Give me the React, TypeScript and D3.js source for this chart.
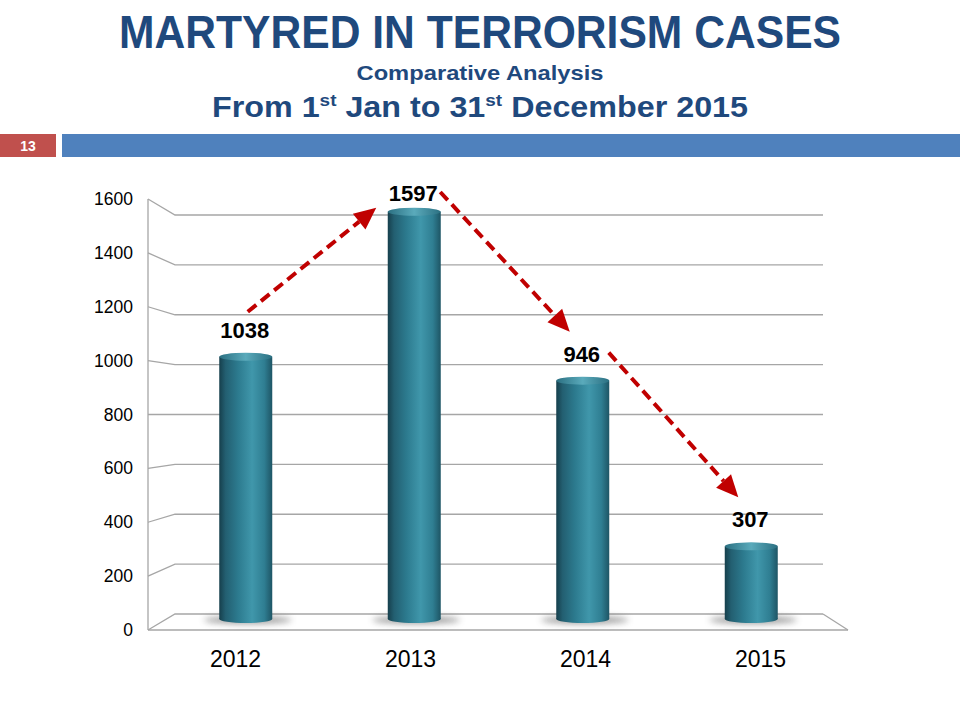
import React from "react";
import * as d3 from "d3";

const categories = ["2012", "2013", "2014", "2015"];
const values = [1038, 1597, 946, 307];
const yTicks = [0, 200, 400, 600, 800, 1000, 1200, 1400, 1600];

const W = 960;
const H = 720;
const NAVY = "#1f497d";
const RED = "#c00000";
const GRID = "#a6a6a6";

export default function App() {
  // perspective planes
  const frontY = d3.scaleLinear().domain([0, 1600]).range([630, 199]);
  const backY = d3.scaleLinear().domain([0, 1600]).range([614, 215]);
  const midY = d3.scaleLinear().domain([0, 1600]).range([622, 207]);
  const xFront = d3.scaleBand<string>().domain(categories).range([148, 848]);
  const xMid = d3.scaleBand<string>().domain(categories).range([161.5, 835.5]);
  const backL = 175;
  const backR = 823;
  const frontL = 148;
  const frontR = 848;
  const barW = 53;
  const ry = 4;

  const cx = (c: string) => (xMid(c) as number) + xMid.bandwidth() / 2;
  const labelY = (v: number) => Math.max(midY(v) - 16, 200);

  const arrows = values.slice(1).map((v, k) => {
    const i = k;
    const a = values[i];
    const up = v > a;
    const c0 = cx(categories[i]);
    const c1 = cx(categories[i + 1]);
    let x0, y0, x1, y1;
    if (up) {
      x0 = c0 + 2;
      y0 = midY(a) - 41;
      x1 = c1 - 38;
      y1 = midY(v);
    } else {
      x0 = c0 + 26;
      y0 = labelY(a) - 8;
      x1 = c1 - 13;
      y1 = midY(v) - 45;
    }
    return { x0, y0, x1, y1 };
  });

  return (
    <svg width={W} height={H} style={{ position: "absolute", left: 0, top: 0 }}
      fontFamily="'Liberation Sans', Arial, sans-serif">
      <defs>
        <linearGradient id="cyl" x1="0" x2="1" y1="0" y2="0">
          <stop offset="0" stopColor="#163f4c" />
          <stop offset="0.12" stopColor="#235f71" />
          <stop offset="0.35" stopColor="#2c7a8e" />
          <stop offset="0.62" stopColor="#4097ab" />
          <stop offset="0.85" stopColor="#2f7e92" />
          <stop offset="1" stopColor="#1e5565" />
        </linearGradient>
        <linearGradient id="cap" x1="0" x2="1" y1="0" y2="0">
          <stop offset="0" stopColor="#2b7082" />
          <stop offset="0.5" stopColor="#5aaabb" />
          <stop offset="1" stopColor="#2b7082" />
        </linearGradient>
        <filter id="blur" x="-50%" y="-200%" width="200%" height="500%">
          <feGaussianBlur stdDeviation="3" />
        </filter>
      </defs>
      <rect width={W} height={H} fill="#ffffff" />

      {/* titles */}
      <text x={480} y={48} textAnchor="middle" fontSize={46} fontWeight="bold" fill={NAVY}
        fontFamily="'Liberation Sans Narrow', 'Arial Narrow', 'Liberation Sans', sans-serif"
        textLength={722} lengthAdjust="spacingAndGlyphs">MARTYRED IN TERRORISM CASES</text>
      <text x={480} y={80} textAnchor="middle" fontSize={21} fontWeight="bold" fill={NAVY}
        fontFamily="'Liberation Sans Narrow', 'Arial Narrow', 'Liberation Sans', sans-serif"
        textLength={247} lengthAdjust="spacingAndGlyphs">Comparative Analysis</text>
      <text x={480} y={117} textAnchor="middle" fontSize={29} fontWeight="bold" fill={NAVY}
        fontFamily="'Liberation Sans Narrow', 'Arial Narrow', 'Liberation Sans', sans-serif"
        textLength={536} lengthAdjust="spacingAndGlyphs">
        From 1<tspan fontSize={17} dy={-11}>st</tspan><tspan dy={11}> Jan to 31</tspan>
        <tspan fontSize={17} dy={-11}>st</tspan><tspan dy={11}> December 2015</tspan>
      </text>

      {/* slide bar */}
      <rect x={0} y={134} width={56} height={23} fill="#c0504d" />
      <text x={28} y={151} textAnchor="middle" fontSize={14} fontWeight="bold" fill="#ffffff">13</text>
      <rect x={62} y={134} width={898} height={23} fill="#4f81bd" />

      {/* grid */}
      <g fill="none" stroke={GRID} strokeWidth={1.3}>
        {yTicks.map((t) => (
          <polyline key={t}
            points={`${frontL},${frontY(t)} ${backL},${backY(t)} ${backR},${backY(t)}`} />
        ))}
        <line x1={frontL} x2={frontR} y1={frontY(0)} y2={frontY(0)} />
        <line x1={backR} y1={backY(0)} x2={frontR} y2={frontY(0)} />
        <line x1={frontL} x2={frontL} y1={frontY(1600)} y2={frontY(0)} />
      </g>

      {/* y labels */}
      {yTicks.map((t) => (
        <text key={t} x={133} y={frontY(t) + 6} textAnchor="end" fontSize={17.5} fill="#000">{t}</text>
      ))}

      {/* x labels */}
      {categories.map((c) => (
        <text key={c} x={(xFront(c) as number) + xFront.bandwidth() / 2} y={667}
          textAnchor="middle" fontSize={23} fill="#000">{c}</text>
      ))}

      {/* bars */}
      {categories.map((c, i) => {
        const x = cx(c);
        const top = midY(values[i]) + ry;
        const bot = midY(0) - ry + 1;
        return (
          <g key={c}>
            <ellipse cx={x + 2} cy={bot + 1} rx={44} ry={4} fill="#555" opacity={0.55} filter="url(#blur)" />
            <rect x={x - barW / 2} y={top} width={barW} height={bot - top} fill="url(#cyl)" />
            <ellipse cx={x} cy={bot} rx={barW / 2} ry={ry} fill="url(#cyl)" />
            <ellipse cx={x} cy={top} rx={barW / 2} ry={ry} fill="url(#cap)" />
          </g>
        );
      })}

      {/* value labels */}
      {categories.map((c, i) => (
        <text key={c} x={cx(c) - 1} y={labelY(values[i]) + 1} textAnchor="middle" fontSize={22}
          fontWeight="bold" fill="#000">{values[i]}</text>
      ))}

      {/* arrows */}
      {arrows.map((a, i) => {
        const ang = Math.atan2(a.y1 - a.y0, a.x1 - a.x0);
        const L = 22;
        const Wd = 10;
        const bx = a.x1 - L * Math.cos(ang);
        const by = a.y1 - L * Math.sin(ang);
        const px = -Math.sin(ang) * Wd;
        const py = Math.cos(ang) * Wd;
        return (
          <g key={i}>
            <line x1={a.x0} y1={a.y0} x2={bx} y2={by} stroke={RED} strokeWidth={4}
              strokeDasharray="11 6" />
            <polygon points={`${a.x1},${a.y1} ${bx + px},${by + py} ${bx - px},${by - py}`} fill={RED} />
          </g>
        );
      })}
    </svg>
  );
}
